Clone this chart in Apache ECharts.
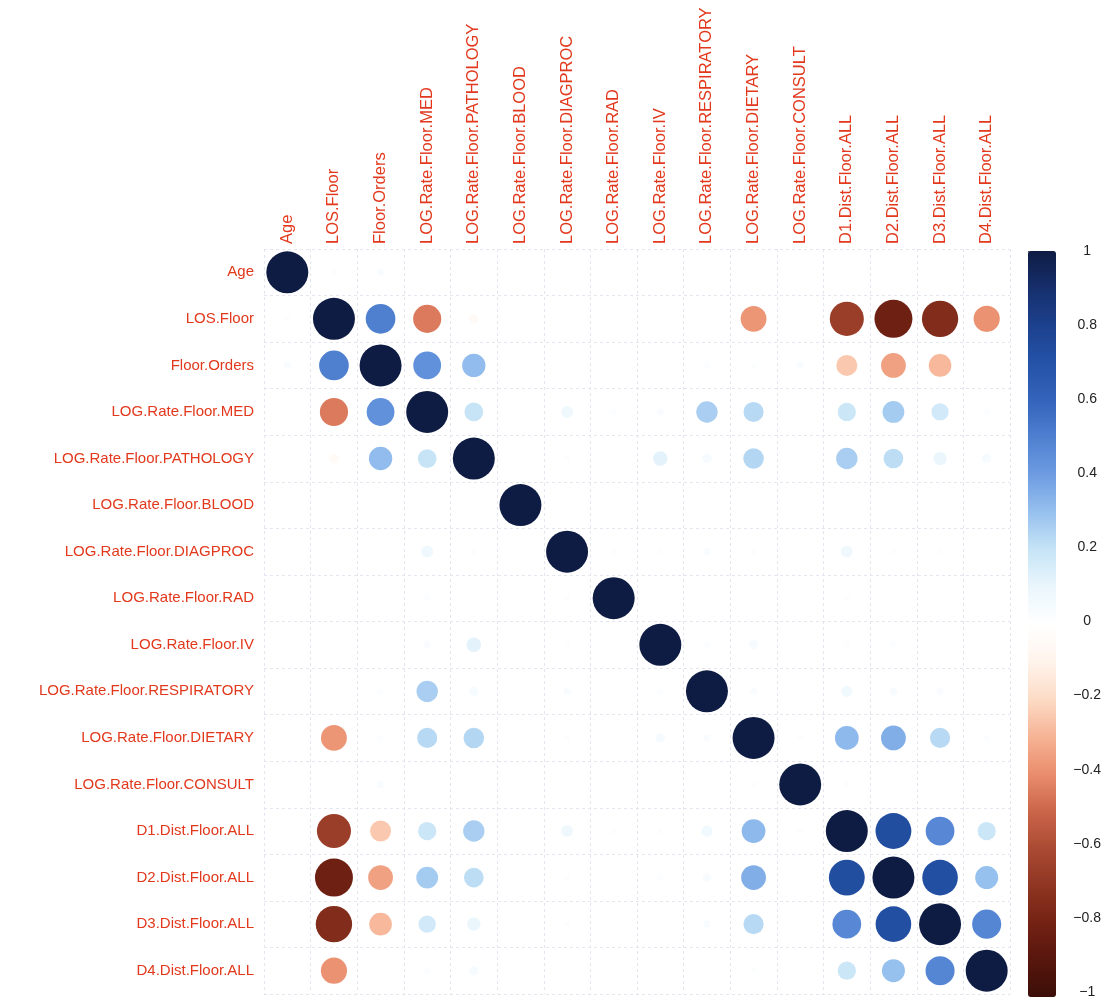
<!DOCTYPE html>
<html>
<head>
<meta charset="utf-8">
<title>Correlation matrix</title>
<script src="https://cdn.jsdelivr.net/npm/echarts@6.0.0/dist/echarts.min.js"></script>
<style>
  html, body { margin: 0; padding: 0; background: #ffffff; }
  #chart { width: 1104px; height: 999px; }
</style>
</head>
<body>
<div id="chart"></div>
<script>
// Variable names, in matrix order
const variables = [
  'Age', 'LOS.Floor', 'Floor.Orders', 'LOG.Rate.Floor.MED', 'LOG.Rate.Floor.PATHOLOGY',
  'LOG.Rate.Floor.BLOOD', 'LOG.Rate.Floor.DIAGPROC', 'LOG.Rate.Floor.RAD', 'LOG.Rate.Floor.IV',
  'LOG.Rate.Floor.RESPIRATORY', 'LOG.Rate.Floor.DIETARY', 'LOG.Rate.Floor.CONSULT',
  'D1.Dist.Floor.ALL', 'D2.Dist.Floor.ALL', 'D3.Dist.Floor.ALL', 'D4.Dist.Floor.ALL'
];

// Correlations below the diagonal: row i holds r(i, 0..i-1)
const lowerTriangle = [
  [],
  [-0.02],
  [0.03, 0.50],
  [0.01, -0.45, 0.44],
  [0.00, -0.05, 0.31, 0.20],
  [0.00, 0.00, 0.01, 0.01, 0.01],
  [0.00, 0.01, 0.01, 0.08, 0.02, 0.01],
  [0.00, 0.00, 0.01, 0.02, 0.01, 0.01, 0.02],
  [0.00, 0.01, 0.01, 0.03, 0.12, 0.01, 0.02, 0.01],
  [0.00, 0.00, 0.02, 0.26, 0.05, 0.01, 0.03, 0.01, 0.02],
  [0.01, -0.38, 0.02, 0.23, 0.24, 0.01, 0.02, 0.01, 0.05, 0.03],
  [0.00, -0.01, 0.03, 0.01, 0.01, 0.00, 0.01, 0.00, 0.01, 0.01, 0.02],
  [0.01, -0.66, -0.25, 0.19, 0.26, 0.01, 0.08, 0.02, 0.02, 0.07, 0.32, 0.02],
  [0.00, -0.82, -0.35, 0.27, 0.22, 0.01, 0.02, 0.01, 0.02, 0.04, 0.35, 0.01, 0.73],
  [0.01, -0.75, -0.29, 0.17, 0.10, 0.01, 0.02, 0.01, 0.01, 0.03, 0.23, 0.01, 0.47, 0.72],
  [0.01, -0.39, 0.01, 0.02, 0.05, 0.00, 0.01, 0.01, 0.01, 0.01, 0.02, 0.01, 0.19, 0.30, 0.48]
];

// Colour-bar tick values
const colorbarTicks = [-1, -0.8, -0.6, -0.4, -0.2, 0, 0.2, 0.4, 0.6, 0.8, 1];

// Diverging palette from -1 to 1 in steps of 0.1
const palette = [
  '#3b0f08', '#58160d', '#742214', '#903622', '#ab4a34', '#cc664a', '#ea8e6e',
  '#f6b496', '#fcdcc6', '#fff4ec', '#ffffff', '#eaf6fc', '#c6e4f6', '#96c0ee',
  '#6e9ce2', '#4f80d0', '#3463bb', '#2553a8', '#1c418e', '#162f6c', '#0e1c44'
];

// Full symmetric matrix built from the lower triangle
const n = variables.length;
const matrix = [];
for (let i = 0; i < n; i++) {
  matrix.push([]);
  for (let j = 0; j < n; j++) {
    if (i === j) matrix[i].push(1);
    else if (j < i) matrix[i].push(lowerTriangle[i][j]);
    else matrix[i].push(lowerTriangle[j][i]);
  }
}
const cells = [];
for (let i = 0; i < n; i++) {
  for (let j = 0; j < n; j++) {
    cells.push([j, i, matrix[i][j]]);
  }
}

const W = 1104, H = 999;
const gridLeft = 264, gridRight = 94, gridTop = 249, gridBottom = 5;
const cellSize = (W - gridLeft - gridRight) / n;
const labelColor = '#e2381c';
const fontFamily = "'Liberation Sans', Arial, Helvetica, sans-serif";

const chart = echarts.init(document.getElementById('chart'), null, { renderer: 'canvas' });

chart.setOption({
  backgroundColor: '#ffffff',
  animation: false,
  grid: [
    { left: gridLeft, right: gridRight, top: gridTop, bottom: gridBottom },
    { left: 1028, top: 251, width: 28, height: 746 }
  ],
  xAxis: [
    {
      type: 'category',
      data: variables,
      position: 'top',
      gridIndex: 0,
      axisLine: { show: false },
      axisTick: { show: false },
      splitLine: { show: true, lineStyle: { color: '#e3e5ef', width: 1, type: [3, 3] } },
      axisLabel: {
        rotate: -90, margin: 5, interval: 0,
        color: labelColor, fontSize: 16.5, fontFamily: fontFamily
      }
    },
    { type: 'value', gridIndex: 1, show: false, min: 0, max: 1 }
  ],
  yAxis: [
    {
      type: 'category',
      data: variables,
      inverse: true,
      gridIndex: 0,
      axisLine: { show: false },
      axisTick: { show: false },
      splitLine: { show: true, lineStyle: { color: '#e3e5ef', width: 1, type: [3, 3] } },
      axisLabel: {
        margin: 10, interval: 0,
        color: labelColor, fontSize: 15, fontFamily: fontFamily
      }
    },
    {
      type: 'value',
      gridIndex: 1,
      position: 'right',
      min: -1, max: 1, interval: 0.2,
      axisLine: { show: false },
      axisTick: { show: true, length: 4, inside: false, lineStyle: { color: '#444' } },
      splitLine: { show: false },
      axisLabel: {
        margin: 33, align: 'center', color: '#222', fontSize: 14, fontFamily: fontFamily,
        formatter: function (v) {
          const r = Math.round(v * 10) / 10;
          if (colorbarTicks.indexOf(r) < 0) return '';
          return String(r).replace('-', '\u2212');
        }
      }
    }
  ],
  visualMap: {
    type: 'continuous',
    min: -1, max: 1,
    dimension: 2,
    seriesIndex: 0,
    orient: 'vertical',
    left: 1028, top: 251,
    itemWidth: 28, itemHeight: 746,
    padding: 0,
    calculable: false,
    hoverLink: false,
    text: null,
    showLabel: false,
    inRange: { color: palette }
  },
  series: [
    {
      type: 'scatter',
      xAxisIndex: 0, yAxisIndex: 0,
      data: cells,
      symbol: 'circle',
      symbolSize: function (d) { return 0.9 * cellSize * Math.sqrt(Math.abs(d[2])); },
      itemStyle: { opacity: 1 },
      emphasis: { disabled: true }
    },
    {
      type: 'scatter',
      xAxisIndex: 1, yAxisIndex: 1,
      data: [],
      silent: true
    }
  ]
});
</script>
</body>
</html>
